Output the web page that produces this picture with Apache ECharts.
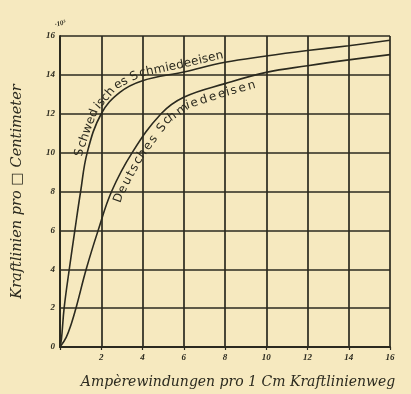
<!DOCTYPE html>
<html>
<head>
<meta charset="utf-8">
<script src="https://cdn.jsdelivr.net/npm/echarts@6/dist/echarts.min.js"></script>
<style>
  html, body { margin: 0; padding: 0; background: #f6e9bf; }
  #chart { width: 411px; height: 394px; }
</style>
</head>
<body>
<div id="chart"></div>
<script>
// Ampere-turns per cm of flux path (x) and lines of force per cm² in thousands (y)
const xTicks = [0, 2, 4, 6, 8, 10, 12, 14, 16];
const yTicks = [0, 2, 4, 6, 8, 10, 12, 14, 16];
const yUnit = '10³';

const schwedischName = 'Schwedisches Schmiedeeisen';
const schwedischX = [0, 0.07, 0.2, 0.45, 0.72, 1.0, 1.32, 2.0, 2.9, 4.0, 6.0, 8.0, 10.0, 12.0, 14.0, 16.0];
const schwedischY = [0, 0.4, 2.0, 4.0, 6.0, 8.0, 10.0, 12.0, 13.1, 13.7, 14.15, 14.65, 14.97, 15.25, 15.5, 15.78];

const deutschName = 'Deutsches Schmiedeeisen';
const deutschX = [0, 0.3, 0.55, 0.8, 1.27, 1.85, 2.5, 3.5, 4.9, 6.0, 8.0, 10.0, 12.0, 14.0, 16.0];
const deutschY = [0, 0.5, 1.2, 2.1, 4.0, 6.0, 8.0, 10.0, 12.0, 12.85, 13.55, 14.13, 14.47, 14.77, 15.04];

const ink = '#2b2a1f';
const paper = '#f6e9bf';
const handFont = '"DejaVu Serif", "Liberation Serif", serif';
const tickFont = '"Liberation Serif", "DejaVu Serif", serif';
const labelFont = '"DejaVu Sans", sans-serif';

function pairs(xs, ys) { return xs.map((x, i) => [x, ys[i]]); }

const chart = echarts.init(document.getElementById('chart'), null, { renderer: 'canvas' });

chart.setOption({
  backgroundColor: paper,
  animation: false,
  grid: { left: 60, right: 21, top: 36, bottom: 45 },
  xAxis: {
    type: 'value', min: xTicks[0], max: xTicks[xTicks.length - 1], interval: 2,
    name: 'Ampèrewindungen pro 1 Cm Kraftlinienweg',
    nameLocation: 'middle', nameGap: 28,
    nameTextStyle: { color: ink, fontFamily: handFont, fontStyle: 'italic', fontSize: 14, padding: [0, 0, 0, 26] },
    axisLine: { show: true, lineStyle: { color: ink, width: 2 } },
    axisTick: { show: true, length: 3, lineStyle: { color: ink, width: 1.2 } },
    splitLine: { show: true, lineStyle: { color: ink, width: 1.7 } },
    axisLabel: {
      color: ink, fontFamily: tickFont, fontStyle: 'italic', fontWeight: 'bold', fontSize: 9, margin: 6,
      formatter: v => (v === 0 ? '' : String(v))
    }
  },
  yAxis: {
    type: 'value', min: yTicks[0], max: yTicks[yTicks.length - 1], interval: 2,
    name: 'Kraftlinien pro □ Centimeter',
    nameLocation: 'middle', nameGap: 35, nameRotate: 90,
    nameTextStyle: { color: ink, fontFamily: handFont, fontStyle: 'italic', fontSize: 14.5 },
    axisLine: { show: true, lineStyle: { color: ink, width: 2 } },
    axisTick: { show: false },
    splitLine: { show: true, lineStyle: { color: ink, width: 1.7 } },
    axisLabel: {
      color: ink, fontFamily: tickFont, fontStyle: 'italic', fontWeight: 'bold', fontSize: 9, margin: 5
    }
  },
  series: [
    {
      name: schwedischName, type: 'line', smooth: 0.4, symbol: 'none',
      lineStyle: { color: ink, width: 1.6 },
      data: pairs(schwedischX, schwedischY)
    },
    {
      name: deutschName, type: 'line', smooth: 0.4, symbol: 'none',
      lineStyle: { color: ink, width: 1.6 },
      data: pairs(deutschX, deutschY)
    }
  ]
});

// Lettering that follows a curve: each glyph is set on the curve's pixel path,
// turned to its tangent and pushed off to one side.
const measureCtx = document.createElement('canvas').getContext('2d');

function pathOf(xs, ys) {
  const pts = xs.map((x, i) => chart.convertToPixel({ gridIndex: 0 }, [x, ys[i]]));
  const cum = [0];
  for (let i = 1; i < pts.length; i++) {
    cum.push(cum[i - 1] + Math.hypot(pts[i][0] - pts[i - 1][0], pts[i][1] - pts[i - 1][1]));
  }
  return { pts, cum };
}

function pointAt(path, s) {
  const { pts, cum } = path;
  let i = 1;
  while (i < cum.length - 1 && cum[i] < s) i++;
  const seg = cum[i] - cum[i - 1] || 1;
  const t = (s - cum[i - 1]) / seg;
  const dx = pts[i][0] - pts[i - 1][0], dy = pts[i][1] - pts[i - 1][1];
  const len = Math.hypot(dx, dy) || 1;
  return {
    x: pts[i - 1][0] + dx * t, y: pts[i - 1][1] + dy * t,
    tx: dx / len, ty: dy / len
  };
}

function arcAtX(path, xVal) {
  const px = chart.convertToPixel({ gridIndex: 0 }, [xVal, 0])[0];
  const { pts, cum } = path;
  for (let i = 1; i < pts.length; i++) {
    if (pts[i][0] >= px) {
      const t = (px - pts[i - 1][0]) / ((pts[i][0] - pts[i - 1][0]) || 1);
      return cum[i - 1] + (cum[i] - cum[i - 1]) * t;
    }
  }
  return cum[cum.length - 1];
}

function curvedText(xs, ys, text, fromX, toX, offset, fontSize) {
  const path = pathOf(xs, ys);
  const s0 = arcAtX(path, fromX);
  const s1 = arcAtX(path, toX);
  measureCtx.font = fontSize + 'px ' + labelFont;
  const widths = Array.from(text).map(ch => measureCtx.measureText(ch).width);
  const total = widths.reduce((a, b) => a + b, 0);
  const scale = (s1 - s0) / total;
  const els = [];
  let s = s0;
  Array.from(text).forEach((ch, k) => {
    const w = widths[k] * scale;
    const p = pointAt(path, s + w / 2);
    s += w;
    if (ch === ' ') return;
    const nx = p.ty, ny = -p.tx;
    els.push({
      type: 'text',
      x: p.x + nx * offset, y: p.y + ny * offset,
      rotation: Math.atan2(-p.ty, p.tx),
      silent: true,
      style: {
        text: ch, x: 0, y: 0, fill: ink,
        font: fontSize + 'px ' + labelFont,
        textAlign: 'center', textVerticalAlign: 'middle'
      }
    });
  });
  return els;
}

const letters = []
  .concat(curvedText(schwedischX, schwedischY, schwedischName, 1.28, 8.0, 7.5, 12))
  .concat(curvedText(deutschX, deutschY, deutschName, 2.35, 9.4, -9, 12));

// Unit multiplier written as a small raised note beside the top value label
const topCorner = chart.convertToPixel({ gridIndex: 0 }, [xTicks[0], yTicks[yTicks.length - 1]]);
letters.push({
  type: 'text',
  x: topCorner[0] - 5, y: topCorner[1] - 11,
  rotation: 0.25,
  silent: true,
  style: {
    text: '·' + yUnit, x: 0, y: 0, fill: ink,
    font: 'italic bold 7px ' + tickFont,
    textAlign: 'left', textVerticalAlign: 'middle'
  }
});

chart.setOption({ graphic: { elements: letters } });
</script>
</body>
</html>
